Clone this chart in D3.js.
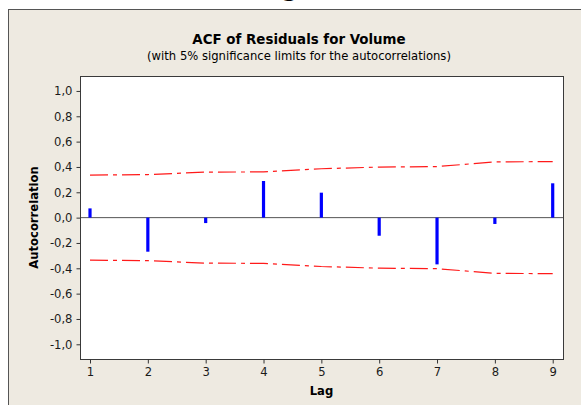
<!DOCTYPE html>
<html>
<head>
<meta charset="utf-8">
<script src="https://cdn.jsdelivr.net/npm/d3@7"></script>
<style>
  body { margin: 0; background: #fff; }
  svg { display: block; font-family: "DejaVu Sans", sans-serif; }
</style>
</head>
<body>
<div id="chart"></div>
<script>
// ACF values per lag
var lags = [1, 2, 3, 4, 5, 6, 7, 8, 9];
var acf = [0.073, -0.269, -0.043, 0.289, 0.197, -0.143, -0.369, -0.05, 0.271];
// 5% significance limits (symmetric, +/-)
var limits = [0.336, 0.34, 0.359, 0.361, 0.386, 0.399, 0.403, 0.44, 0.442];
var yTicks = [-1, -0.8, -0.6, -0.4, -0.2, 0, 0.2, 0.4, 0.6, 0.8, 1];

var width = 581,
    height = 405,
    plot = { left: 80, top: 76, right: 563, bottom: 359 };

var svg = d3.select('#chart')
  .append('svg')
  .attr('width', width)
  .attr('height', height);

// cropped glyph of a caption above the frame
svg.append('text')
  .attr('x', 290)
  .attr('y', -4)
  .attr('text-anchor', 'middle')
  .style('font-size', '24px')
  .style('font-weight', 'bold')
  .text('g');

// outer frame
svg.append('rect')
  .attr('x', 8.5)
  .attr('y', 9.5)
  .attr('width', 620)
  .attr('height', 420)
  .style('fill', '#eeeae1')
  .style('stroke', '#555');

svg.append('rect')
  .attr('x', plot.left)
  .attr('y', plot.top)
  .attr('width', plot.right - plot.left)
  .attr('height', plot.bottom - plot.top)
  .style('fill', '#fff');

var x = d3.scaleLinear()
  .domain([0.827, 9.178])
  .range([plot.left, plot.right]);

var y = d3.scaleLinear()
  .domain([-1.116, 1.118])
  .range([plot.bottom, plot.top]);

// zero line
svg.append('line')
  .attr('x1', plot.left)
  .attr('x2', plot.right)
  .attr('y1', y(0))
  .attr('y2', y(0))
  .style('stroke', '#555')
  .style('stroke-width', 1);

// significance limits
var limitLine = function (sign) {
  return d3.line()
    .x(function (d, i) { return x(lags[i]); })
    .y(function (d) { return y(sign * d); });
};

[1, -1].forEach(function (sign) {
  svg.append('path')
    .datum(limits)
    .attr('d', limitLine(sign))
    .style('fill', 'none')
    .style('stroke', '#ff1a1a')
    .style('stroke-width', 1.2)
    .style('stroke-dasharray', '18,5,4,5');
});

// ACF bars
svg.selectAll('.bar')
  .data(acf)
  .enter()
  .append('line')
  .attr('class', 'bar')
  .attr('x1', function (d, i) { return x(lags[i]); })
  .attr('x2', function (d, i) { return x(lags[i]); })
  .attr('y1', y(0))
  .attr('y2', function (d) { return y(d); })
  .style('stroke', '#0000ff')
  .style('stroke-width', 3.2);

// plot border
svg.append('rect')
  .attr('x', plot.left + 0.5)
  .attr('y', plot.top + 0.5)
  .attr('width', plot.right - plot.left)
  .attr('height', plot.bottom - plot.top)
  .style('fill', 'none')
  .style('stroke', '#3a3a3a');

var yAxis = svg.append('g')
  .attr('transform', 'translate(' + (plot.left + 0.5) + ',0)')
  .call(d3.axisLeft(y)
    .tickValues(yTicks)
    .tickSize(4)
    .tickPadding(4)
    .tickFormat(function (d) { return d3.format('.1f')(d).replace('.', ',').replace('−', '-'); }));

var xAxis = svg.append('g')
  .attr('transform', 'translate(0,' + (plot.bottom + 0.5) + ')')
  .call(d3.axisBottom(x)
    .tickValues(lags)
    .tickSize(4)
    .tickPadding(4)
    .tickFormat(d3.format('d')));

[xAxis, yAxis].forEach(function (axis) {
  axis.select('.domain').remove();
  axis.selectAll('line').style('stroke', '#333');
  axis.selectAll('text')
    .style('font-family', '"DejaVu Sans", sans-serif')
    .style('font-size', '11.6px')
    .style('fill', '#1a1a1a');
});

// titles
svg.append('text')
  .attr('x', 299)
  .attr('y', 44)
  .attr('text-anchor', 'middle')
  .style('font-size', '13.4px')
  .style('font-weight', 'bold')
  .text('ACF of Residuals for Volume');

svg.append('text')
  .attr('x', 299)
  .attr('y', 60)
  .attr('text-anchor', 'middle')
  .style('font-size', '11.6px')
  .text('(with 5% significance limits for the autocorrelations)');

svg.append('text')
  .attr('x', (plot.left + plot.right) / 2)
  .attr('y', 395)
  .attr('text-anchor', 'middle')
  .style('font-size', '11.6px')
  .style('font-weight', 'bold')
  .text('Lag');

svg.append('text')
  .attr('transform', 'translate(38,' + ((plot.top + plot.bottom) / 2) + ') rotate(-90)')
  .attr('text-anchor', 'middle')
  .style('font-size', '11.6px')
  .style('font-weight', 'bold')
  .text('Autocorrelation');
</script>
</body>
</html>
